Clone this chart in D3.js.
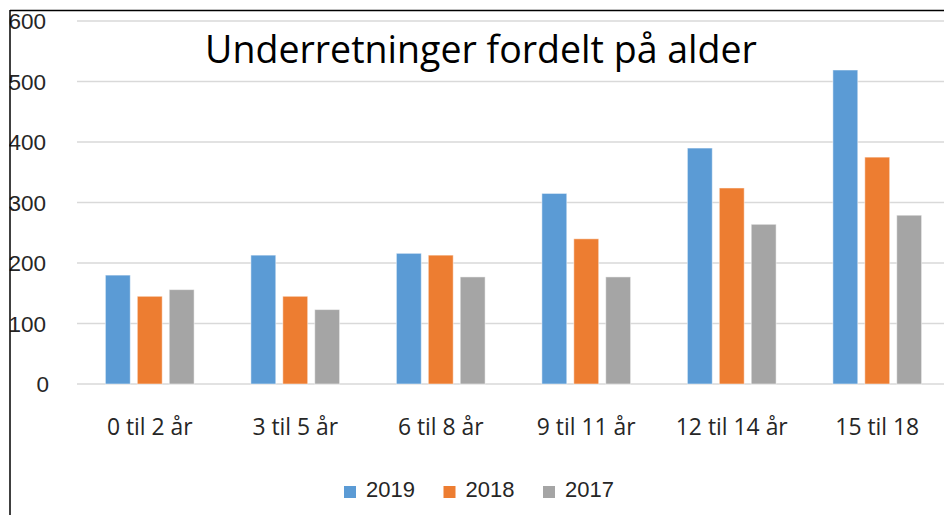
<!DOCTYPE html>
<html>
<head>
<meta charset="utf-8">
<script src="https://cdn.jsdelivr.net/npm/d3@7"></script>
<style>
  body { margin: 0; background: #fff; }
  svg { display: block; }
</style>
</head>
<body>
<svg id="chart" width="944" height="515"></svg>
<script>
// data
var categories = ["0 til 2 år", "3 til 5 år", "6 til 8 år", "9 til 11 år", "12 til 14 år", "15 til 18"];
var years = ["2019", "2018", "2017"];
var values2019 = [180, 213, 216, 315, 390, 519];
var values2018 = [145, 145, 213, 240, 324, 375];
var values2017 = [156, 123, 177, 177, 264, 279];
var yTicks = [0, 100, 200, 300, 400, 500, 600];
var colors = ["#5B9BD5", "#ED7D31", "#A5A5A5"];

var series = [values2019, values2018, values2017];

var svg = d3.select("#chart");
var margin = { left: 77, right: -6, top: 21, bottom: 131 };
var width = 944, height = 515;

var x0 = d3.scaleBand()
    .domain(categories)
    .range([margin.left, width - margin.right])
    .paddingInner(0.39)
    .paddingOuter(0.195);

var x1 = d3.scaleBand()
    .domain(years)
    .range([0, x0.bandwidth()])
    .paddingInner(0.22);

var y = d3.scaleLinear()
    .domain([0, 600])
    .range([height - margin.bottom, margin.top]);

// gridlines
svg.append("g")
    .selectAll("line")
    .data(yTicks)
    .enter().append("line")
    .attr("x1", margin.left)
    .attr("x2", width)
    .attr("y1", function (d) { return y(d); })
    .attr("y2", function (d) { return y(d); })
    .attr("stroke", "#d9d9d9")
    .attr("stroke-width", 1.5);

// y labels (the left frame cuts into the first digit, like the original)
svg.append("g")
    .selectAll("text")
    .data(yTicks)
    .enter().append("text")
    .attr("x", function (d) { return d === 0 ? 49 : 46; })
    .attr("y", function (d) { return y(d); })
    .attr("dy", "0.36em")
    .attr("text-anchor", "end")
    .attr("font-family", "Liberation Sans, Arial, sans-serif")
    .attr("font-size", 22.5)
    .attr("fill", "#262626")
    .text(function (d) { return d; });

// bars
var groups = svg.append("g")
    .selectAll("g")
    .data(categories)
    .enter().append("g")
    .attr("transform", function (d) { return "translate(" + x0(d) + ",0)"; });

groups.selectAll("rect")
    .data(function (d, i) {
        return years.map(function (yr, j) { return { year: yr, value: series[j][i], c: colors[j] }; });
    })
    .enter().append("rect")
    .attr("x", function (d) { return x1(d.year); })
    .attr("y", function (d) { return y(d.value); })
    .attr("width", x1.bandwidth())
    .attr("height", function (d) { return y(0) - y(d.value); })
    .attr("fill", function (d) { return d.c; })
    .attr("stroke", "#fff")
    .attr("stroke-opacity", 0.5)
    .attr("stroke-width", 1);

// x labels
var xLabels = svg.append("g")
    .selectAll("text")
    .data(categories)
    .enter().append("text")
    .attr("x", function (d) { return x0(d) + x0.bandwidth() / 2; })
    .attr("y", 435)
    .attr("text-anchor", "middle")
    .attr("font-family", "Open Sans, sans-serif")
    .attr("font-size", 19)
    .attr("fill", "#262626")
    .text(function (d) { return d; });
// fit the x labels so "12 til 14 år" is about 112px wide
var probe = xLabels.filter(function (d, i) { return i === 4; }).node();
var fs = 19 * 112 / probe.getComputedTextLength();
xLabels.attr("font-size", fs);

// title
var title = svg.append("text")
    .attr("x", 481)
    .attr("y", 63)
    .attr("text-anchor", "middle")
    .attr("font-family", "Open Sans, sans-serif")
    .attr("font-size", 36)
    .attr("fill", "#000")
    .text("Underretninger fordelt på alder");
title.attr("font-size", 36 * 552 / title.node().getComputedTextLength());

// legend
var legend = svg.append("g")
    .selectAll("g")
    .data(years)
    .enter().append("g")
    .attr("transform", function (d, i) { return "translate(" + (344 + i * 99.5) + ",486)"; });
legend.append("rect")
    .attr("width", 12)
    .attr("height", 12)
    .attr("fill", function (d, i) { return colors[i]; });
legend.append("text")
    .attr("x", 22)
    .attr("y", 11)
    .attr("font-family", "Liberation Sans, Arial, sans-serif")
    .attr("font-size", 22)
    .attr("fill", "#262626")
    .text(function (d) { return d; });

// frame lines (top and left)
svg.append("rect").attr("x", 0).attr("y", 0).attr("width", 9.25).attr("height", height).attr("fill", "#fff");
svg.append("line").attr("x1", 10).attr("x2", width).attr("y1", 10.5).attr("y2", 10.5)
    .attr("stroke", "#000").attr("stroke-width", 1.5);
svg.append("line").attr("x1", 10).attr("x2", 10).attr("y1", 10).attr("y2", height)
    .attr("stroke", "#000").attr("stroke-width", 1.5);
</script>
</body>
</html>
